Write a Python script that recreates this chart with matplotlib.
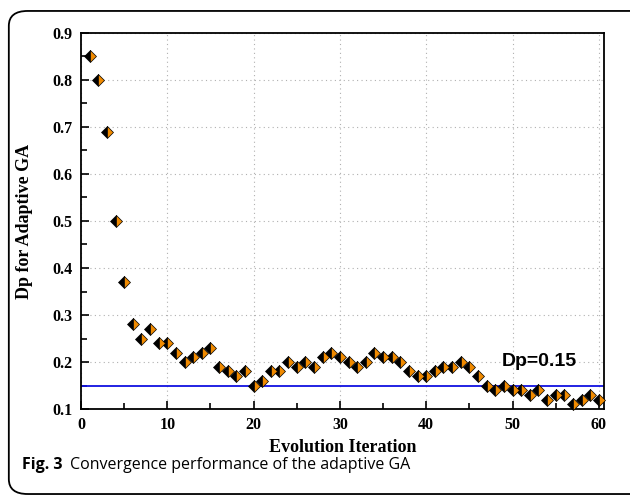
import matplotlib
matplotlib.use("Agg")
import matplotlib.pyplot as plt
from matplotlib.patches import FancyBboxPatch
from matplotlib.ticker import MultipleLocator

iterations = list(range(1, 61))
dp_values = [0.85, 0.80, 0.69, 0.50, 0.37, 0.28, 0.25, 0.27, 0.24, 0.24,
             0.22, 0.20, 0.21, 0.22, 0.23, 0.19, 0.18, 0.17, 0.18, 0.15,
             0.16, 0.18, 0.18, 0.20, 0.19, 0.20, 0.19, 0.21, 0.22, 0.21,
             0.20, 0.19, 0.20, 0.22, 0.21, 0.21, 0.20, 0.18, 0.17, 0.17,
             0.18, 0.19, 0.19, 0.20, 0.19, 0.17, 0.15, 0.14, 0.15, 0.14,
             0.14, 0.13, 0.14, 0.12, 0.13, 0.13, 0.11, 0.12, 0.13, 0.12]
threshold = 0.15
threshold_label = "Dp=0.15"
x_ticks = [0, 10, 20, 30, 40, 50, 60]
y_ticks = [0.1, 0.2, 0.3, 0.4, 0.5, 0.6, 0.7, 0.8, 0.9]

fig = plt.figure(figsize=(6.3, 4.98), dpi=100)

# rounded frame around the figure and caption
frame = FancyBboxPatch((0.014, 0.008), 1.05, 0.97,
                       boxstyle="round,pad=0,rounding_size=0.03",
                       transform=fig.transFigure, fill=False,
                       edgecolor="black", linewidth=1.3, clip_on=False)
fig.patches.append(frame)

ax = fig.add_axes([81 / 630, 1 - 409 / 498, (604 - 81) / 630, (409 - 33) / 498])

serif = "Liberation Serif"

ax.axhline(threshold, color="#1010e0", linewidth=1.3, zorder=2)
ax.plot(iterations, dp_values, linestyle="none", marker="D", markersize=5.8,
        fillstyle="left", markerfacecolor="black",
        markerfacecoloralt="#f08a00", markeredgecolor="black",
        markeredgewidth=0.5, zorder=3, clip_on=False)

ax.text(53.1, 0.2, threshold_label, fontsize=14, fontweight="bold",
        family="Liberation Sans", ha="center", va="center")

ax.set_xlim(0, 60.6)
ax.set_ylim(0.1, 0.9)
ax.set_xticks(x_ticks)
ax.set_yticks(y_ticks)
ax.xaxis.set_minor_locator(MultipleLocator(5))
ax.yaxis.set_minor_locator(MultipleLocator(0.05))
ax.tick_params(which="both", direction="in", top=False, right=False,
               width=1.2, pad=6)
ax.tick_params(which="major", length=6)
ax.tick_params(which="minor", length=4)
ax.set_xticklabels([str(v) for v in x_ticks], family=serif,
                   fontweight="bold", fontsize=11.5)
ax.set_yticklabels([f"{v:.1f}" for v in y_ticks], family=serif,
                   fontweight="bold", fontsize=11.5)
ax.grid(True, which="major", linestyle=(0, (1, 3)), color="#b0b0b0",
        linewidth=0.8)
ax.set_axisbelow(True)
for s in ax.spines.values():
    s.set_linewidth(1.3)

ax.set_xlabel("Evolution Iteration", family=serif, fontweight="bold",
              fontsize=13, labelpad=4)
ax.set_ylabel("Dp for Adaptive GA", family=serif, fontweight="bold",
              fontsize=13, labelpad=14)

fig.text(22 / 630, 1 - 465 / 498, "Fig. 3", family="Open Sans",
         fontweight="bold", fontsize=11.5, va="center", ha="left")
fig.text(70 / 630, 1 - 465 / 498, "Convergence performance of the adaptive GA",
         family="Open Sans", fontsize=11.5, va="center", ha="left")

fig.savefig("out.png", dpi=100)
